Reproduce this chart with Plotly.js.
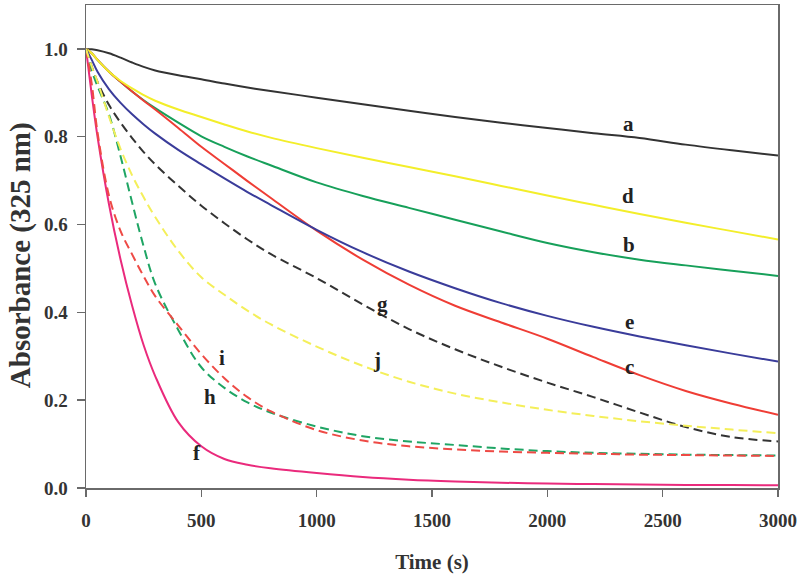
<!DOCTYPE html>
<html>
<head>
<meta charset="utf-8">
<script src="https://cdn.plot.ly/plotly-3.0.1.min.js"></script>
<style>html,body{margin:0;padding:0;background:#fff;}#chart{width:800px;height:581px;}</style>
</head>
<body>
<div id="chart"></div>
<script>
// Time grid (s)
const time = [0, 25, 50, 100, 150, 200, 250, 300, 400, 500, 600, 700, 800, 1000, 1200, 1400, 1600, 1800, 2000, 2200, 2400, 2600, 2800, 3000];
// Absorbance at 325 nm, one array per curve
const curveA = [1.0, 0.999, 0.997, 0.99, 0.98, 0.969, 0.959, 0.951, 0.94, 0.931, 0.921, 0.912, 0.904, 0.889, 0.874, 0.859, 0.845, 0.832, 0.82, 0.808, 0.797, 0.782, 0.769, 0.757];
const curveB = [1.0, 0.99, 0.975, 0.948, 0.925, 0.903, 0.883, 0.865, 0.832, 0.801, 0.777, 0.755, 0.735, 0.696, 0.665, 0.638, 0.611, 0.584, 0.558, 0.537, 0.52, 0.507, 0.495, 0.483];
const curveC = [1.0, 0.99, 0.975, 0.948, 0.925, 0.903, 0.882, 0.862, 0.82, 0.777, 0.738, 0.699, 0.661, 0.586, 0.52, 0.463, 0.415, 0.377, 0.34, 0.298, 0.257, 0.221, 0.192, 0.167];
const curveD = [1.0, 0.99, 0.975, 0.948, 0.927, 0.91, 0.895, 0.882, 0.862, 0.845, 0.828, 0.812, 0.798, 0.774, 0.752, 0.731, 0.71, 0.688, 0.666, 0.645, 0.624, 0.604, 0.585, 0.566];
const curveE = [1.0, 0.975, 0.948, 0.908, 0.877, 0.851, 0.828, 0.807, 0.77, 0.737, 0.705, 0.674, 0.645, 0.588, 0.537, 0.493, 0.455, 0.421, 0.392, 0.367, 0.345, 0.325, 0.306, 0.288];
const curveF = [1.0, 0.895, 0.80, 0.645, 0.52, 0.415, 0.325, 0.255, 0.15, 0.095, 0.066, 0.053, 0.045, 0.034, 0.025, 0.019, 0.015, 0.012, 0.01, 0.009, 0.008, 0.007, 0.007, 0.006];
const curveG = [1.0, 0.96, 0.925, 0.872, 0.832, 0.797, 0.765, 0.737, 0.688, 0.643, 0.603, 0.566, 0.533, 0.478, 0.418, 0.362, 0.316, 0.276, 0.24, 0.207, 0.172, 0.139, 0.116, 0.106];
const curveH = [1.0, 0.95, 0.915, 0.85, 0.755, 0.65, 0.55, 0.465, 0.36, 0.275, 0.228, 0.195, 0.172, 0.14, 0.118, 0.106, 0.098, 0.09, 0.084, 0.08, 0.078, 0.076, 0.075, 0.074];
const curveI = [1.0, 0.92, 0.81, 0.665, 0.585, 0.532, 0.482, 0.437, 0.37, 0.305, 0.25, 0.207, 0.175, 0.132, 0.108, 0.095, 0.088, 0.083, 0.08, 0.078, 0.076, 0.075, 0.074, 0.073];
const curveJ = [1.0, 0.96, 0.925, 0.845, 0.772, 0.712, 0.662, 0.617, 0.54, 0.48, 0.44, 0.404, 0.373, 0.322, 0.278, 0.242, 0.215, 0.195, 0.178, 0.164, 0.152, 0.142, 0.133, 0.125];

const seriesNames = ['a', 'b', 'c', 'd', 'e', 'f', 'g', 'h', 'i', 'j'];
const seriesValues = [curveA, curveB, curveC, curveD, curveE, curveF, curveG, curveH, curveI, curveJ];
const seriesColors = ['#333333', '#17a05a', '#ef3d35', '#f3ee2a', '#3a3c9a', '#ea2a7c', '#333333', '#1fa564', '#ee4a45', '#f4ef5a'];
const seriesDash = ['solid', 'solid', 'solid', 'solid', 'solid', 'solid', '9px,5px', '9px,5px', '9px,5px', '9px,5px'];

// Curve labels (position in data coordinates)
const labelText = ['a', 'd', 'b', 'e', 'c', 'g', 'j', 'i', 'h', 'f'];
const labelX = [2350, 2350, 2352, 2357, 2357, 1287, 1261, 589, 537, 481];
const labelY = [0.828, 0.664, 0.553, 0.377, 0.276, 0.418, 0.292, 0.297, 0.208, 0.080];

const traces = seriesNames.map((n, k) => ({
  x: time, y: seriesValues[k], name: n, type: 'scatter', mode: 'lines',
  line: {color: seriesColors[k], width: 2, dash: seriesDash[k], shape: 'spline', smoothing: 1},
  hoverinfo: 'skip'
}));

const serif = 'Liberation Serif, Times New Roman, serif';
const annotations = labelText.map((t, k) => ({
  x: labelX[k], y: labelY[k], xref: 'x', yref: 'y', text: t, showarrow: false,
  font: {family: serif, size: 21, color: '#222', weight: 'bold'}
}));
// y-axis title
annotations.push({
  x: -0.0954, y: 0.482, xref: 'paper', yref: 'paper', xanchor: 'center', yanchor: 'middle',
  text: 'Absorbance (325 nm)', textangle: -90, showarrow: false,
  font: {family: serif, size: 29, color: '#333', weight: 'bold'}
});

const layout = {
  width: 800, height: 581,
  margin: {l: 86, r: 22, t: 5, b: 93},
  paper_bgcolor: '#fff', plot_bgcolor: '#fff',
  showlegend: false,
  font: {family: serif, color: '#333'},
  xaxis: {
    range: [0, 3000], dtick: 500, tick0: 0,
    showgrid: false, zeroline: false,
    showline: true, linecolor: '#6a6a6a', linewidth: 1.5, mirror: true,
    ticks: 'outside', ticklen: 7, tickwidth: 1.5, tickcolor: '#6a6a6a',
    ticklabelstandoff: 8,
    tickfont: {family: serif, size: 19, color: '#333', weight: 'bold'},
    title: {text: 'Time (s)', standoff: 24, font: {family: serif, size: 21, color: '#333', weight: 'bold'}}
  },
  yaxis: {
    range: [0, 1.1], dtick: 0.2, tick0: 0, tickformat: '.1f',
    showgrid: false, zeroline: false,
    showline: true, linecolor: '#6a6a6a', linewidth: 1.5, mirror: true,
    ticks: 'outside', ticklen: 8, tickwidth: 1.5, tickcolor: '#6a6a6a',
    ticklabelstandoff: 5,
    tickfont: {family: serif, size: 19, color: '#333', weight: 'bold'}
  },
  annotations: annotations
};

Plotly.newPlot('chart', traces, layout, {displayModeBar: false, staticPlot: true});
</script>
</body>
</html>
